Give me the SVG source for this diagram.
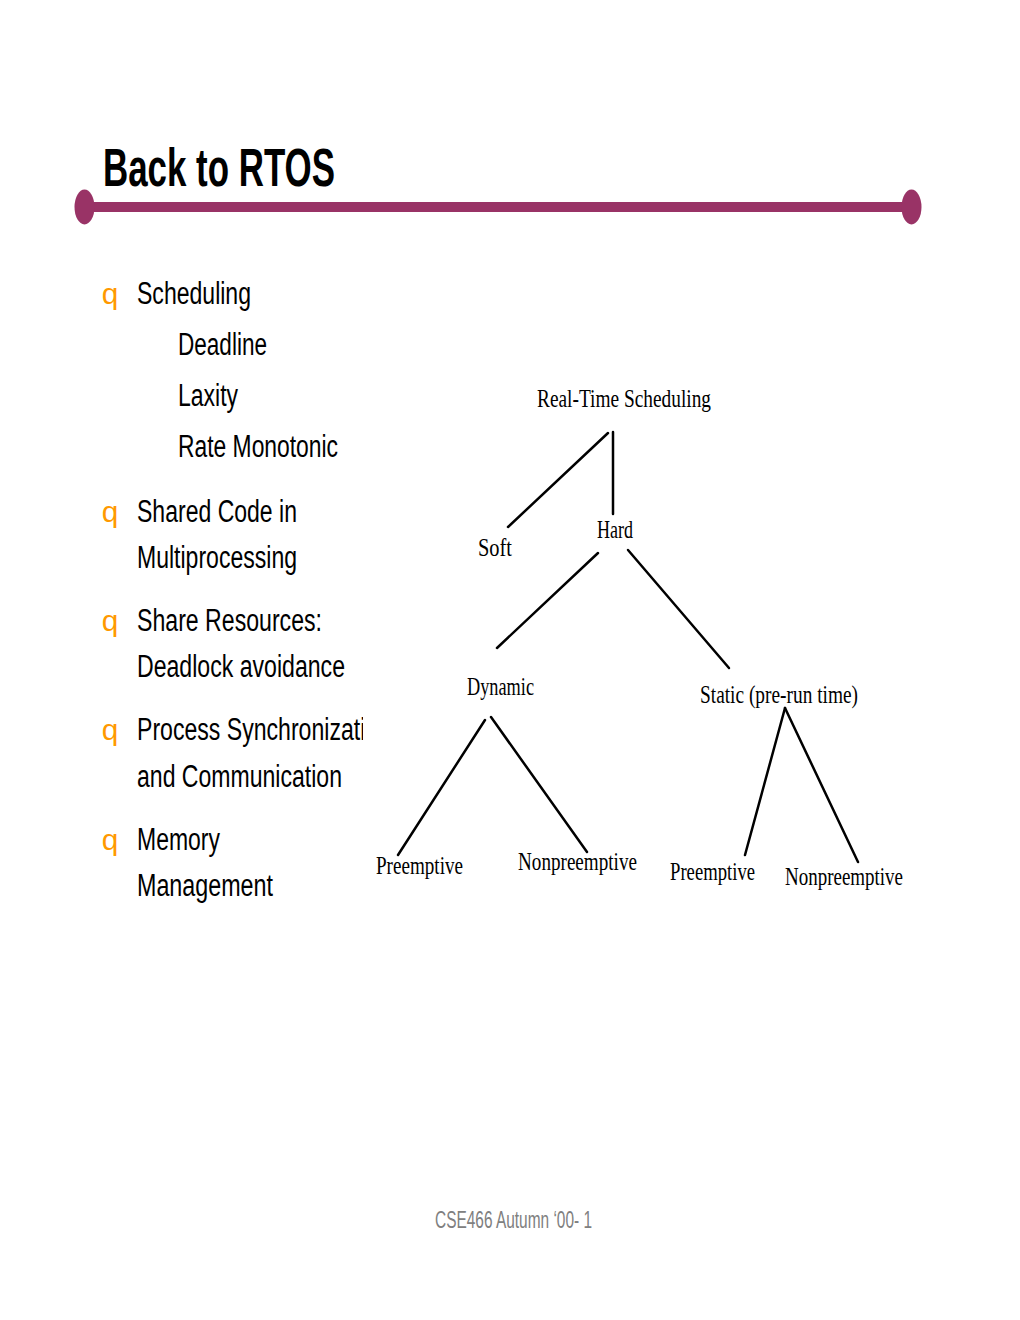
<svg xmlns="http://www.w3.org/2000/svg" width="1020" height="1320" viewBox="0 0 1020 1320">
<style>
.title{font-family:"Liberation Sans",Arial,sans-serif;font-weight:bold;font-size:53px;fill:#000}
.body{font-family:"Liberation Sans",Arial,sans-serif;font-size:31px;fill:#000}
.bullet{font-family:"Liberation Mono","Courier New",monospace;font-size:30px;fill:#FF9900}
.tree{font-family:"Liberation Serif","Times New Roman",serif;font-size:26px;fill:#000}
.foot{font-family:"Liberation Sans",Arial,sans-serif;font-size:23px;fill:#808080}
.edge{stroke:#000;stroke-width:2.5;fill:none;stroke-linecap:round}
</style>
<defs>
<clipPath id="clipLeft"><rect x="0" y="0" width="363" height="1320"/></clipPath>
</defs>
<rect width="1020" height="1320" fill="#fff"/>

<g id="title">
<text class="title" x="103" y="186" textLength="232" lengthAdjust="spacingAndGlyphs">Back to RTOS</text>
<rect x="84" y="202" width="828" height="10" fill="#993366"/>
<ellipse cx="84.5" cy="207" rx="10" ry="17.5" fill="#993366"/>
<ellipse cx="911.5" cy="207" rx="10" ry="17.5" fill="#993366"/>
</g>

<g id="bullets">
<text class="bullet" x="101" y="304">q</text>
<text class="body" x="137" y="304" textLength="114" lengthAdjust="spacingAndGlyphs">Scheduling</text>
<text class="body" x="178" y="355" textLength="89" lengthAdjust="spacingAndGlyphs">Deadline</text>
<text class="body" x="178" y="406" textLength="60" lengthAdjust="spacingAndGlyphs">Laxity</text>
<text class="body" x="178" y="457" textLength="160" lengthAdjust="spacingAndGlyphs">Rate Monotonic</text>

<text class="bullet" x="101" y="522">q</text>
<text class="body" x="137" y="522" textLength="160" lengthAdjust="spacingAndGlyphs">Shared Code in</text>
<text class="body" x="137" y="568" textLength="160" lengthAdjust="spacingAndGlyphs">Multiprocessing</text>

<text class="bullet" x="101" y="631">q</text>
<text class="body" x="137" y="631" textLength="185" lengthAdjust="spacingAndGlyphs">Share Resources:</text>
<text class="body" x="137" y="677" textLength="208" lengthAdjust="spacingAndGlyphs">Deadlock avoidance</text>

<text class="bullet" x="101" y="740">q</text>
<text class="body" x="137" y="740" textLength="254" lengthAdjust="spacingAndGlyphs" clip-path="url(#clipLeft)">Process Synchronization</text>
<text class="body" x="137" y="787" textLength="205" lengthAdjust="spacingAndGlyphs">and Communication</text>

<text class="bullet" x="101" y="850">q</text>
<text class="body" x="137" y="850" textLength="83" lengthAdjust="spacingAndGlyphs">Memory</text>
<text class="body" x="137" y="896" textLength="136" lengthAdjust="spacingAndGlyphs">Management</text>
</g>

<g id="connectors">
<line class="edge" x1="608" y1="433" x2="508" y2="527"/>
<line class="edge" x1="613" y1="432" x2="613" y2="514"/>
<line class="edge" x1="598" y1="553" x2="497" y2="648"/>
<line class="edge" x1="628" y1="550" x2="729" y2="668"/>
<line class="edge" x1="485" y1="720" x2="398" y2="855"/>
<line class="edge" x1="491" y1="717" x2="587" y2="852"/>
<line class="edge" x1="785" y1="708" x2="745" y2="855"/>
<line class="edge" x1="785" y1="708" x2="858" y2="862"/>
</g>

<g id="node-realtime"><text class="tree" x="537" y="407" textLength="174" lengthAdjust="spacingAndGlyphs">Real-Time Scheduling</text></g>
<g id="node-soft"><text class="tree" x="478" y="556" textLength="34" lengthAdjust="spacingAndGlyphs">Soft</text></g>
<g id="node-hard"><text class="tree" x="597" y="538" textLength="36" lengthAdjust="spacingAndGlyphs">Hard</text></g>
<g id="node-dynamic"><text class="tree" x="467" y="695" textLength="67" lengthAdjust="spacingAndGlyphs">Dynamic</text></g>
<g id="node-static"><text class="tree" x="700" y="703" textLength="158" lengthAdjust="spacingAndGlyphs">Static (pre-run time)</text></g>
<g id="node-dyn-pre"><text class="tree" x="376" y="874" textLength="87" lengthAdjust="spacingAndGlyphs">Preemptive</text></g>
<g id="node-dyn-nonpre"><text class="tree" x="518" y="870" textLength="119" lengthAdjust="spacingAndGlyphs">Nonpreemptive</text></g>
<g id="node-sta-pre"><text class="tree" x="670" y="880" textLength="85" lengthAdjust="spacingAndGlyphs">Preemptive</text></g>
<g id="node-sta-nonpre"><text class="tree" x="785" y="885" textLength="118" lengthAdjust="spacingAndGlyphs">Nonpreemptive</text></g>

<g id="footer">
<text class="foot" x="435" y="1228" textLength="157" lengthAdjust="spacingAndGlyphs">CSE466 Autumn ‘00- 1</text>
</g>
</svg>
